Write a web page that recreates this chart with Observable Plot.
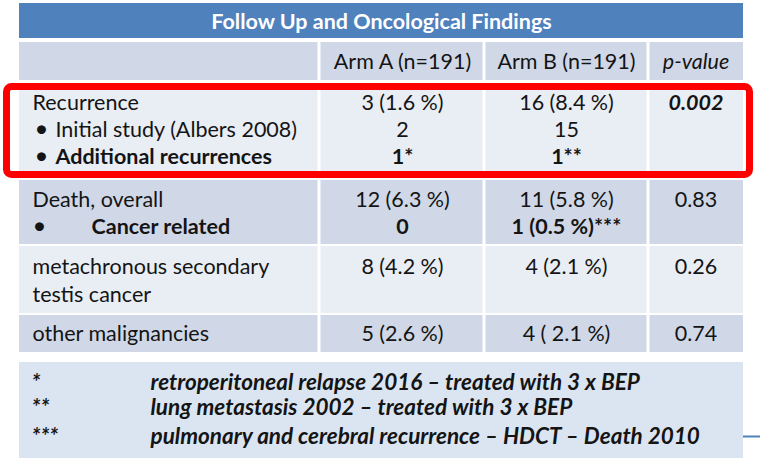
<!DOCTYPE html>
<html>
<head>
<meta charset="utf-8">
<script src="https://cdn.jsdelivr.net/npm/d3@7"></script>
<script src="https://cdn.jsdelivr.net/npm/@observablehq/plot@0.6"></script>
<style>
  html, body { margin: 0; padding: 0; background: #ffffff; }
  #chart svg { display: block; }
</style>
</head>
<body>
<div id="chart"></div>
<script>
// ---------- DATA ----------
const title = "Follow Up and Oncological Findings";
const columnHeaders = ["Arm A (n=191)", "Arm B (n=191)", "p-value"];
const findings = ["Recurrence", "Initial study (Albers 2008)", "Additional recurrences",
                  "Death, overall", "Cancer related",
                  "metachronous secondary", "testis cancer",
                  "other malignancies"];
const armA = ["3 (1.6 %)", "2", "1*", "12 (6.3 %)", "0", "8 (4.2 %)", "", "5 (2.6 %)"];
const armB = ["16 (8.4 %)", "15", "1**", "11 (5.8 %)", "1 (0.5 %)***", "4 (2.1 %)", "", "4 ( 2.1 %)"];
const pValues = ["0.002", "", "", "0.83", "", "0.26", "", "0.74"];
const footnoteMarks = ["*", "**", "***"];
const footnoteTexts = ["retroperitoneal relapse 2016 \u2013 treated with 3 x BEP",
                       "lung metastasis 2002 \u2013 treated with 3 x BEP",
                       "pulmonary and cerebral recurrence \u2013 HDCT \u2013 Death 2010"];

// ---------- LAYOUT (positions & styles, not data) ----------
const colEdges = [19, 319, 484, 648, 743];
const colCenters = [null, 402, 566, 695.5];
const lineBaseline = [109, 136, 163, 206, 233, 273, 301, 340];
const lineBullet = [false, true, true, false, true, false, false, false];
const lineBold = [false, false, true, false, true, false, false, false];
const labelIndent = [32, 55, 55, 32, 91, 32, 32, 32];
const groupBands = [[83, 178, "#E9EDF4"], [180, 244, "#D0D8E8"], [246, 313, "#E9EDF4"], [315, 352, "#D0D8E8"]];
const footBaselines = [389, 414, 443];
const FONT = "Lato, 'Open Sans', sans-serif";
const FS = 21.5;
const TXT = "#141414";

// background cells
const cells = [];
cells.push({x1: colEdges[0], x2: colEdges[4], y1: 3, y2: 38, fill: "#4F81BD"});
for (let c = 0; c < 4; c++) {
  const x1 = colEdges[c] + (c > 0 ? 1.5 : 0), x2 = colEdges[c + 1] - (c < 3 ? 1.5 : 0);
  cells.push({x1, x2, y1: 42, y2: 80, fill: "#D0D8E8"});
  for (const [y1, y2, fill] of groupBands) cells.push({x1, x2, y1, y2, fill});
}
cells.push({x1: colEdges[0], x2: colEdges[4], y1: 362, y2: 458, fill: "#DBE5F1"});

const lines = findings.map((label, i) => ({
  label, a: armA[i], b: armB[i], p: pValues[i],
  y: lineBaseline[i], bullet: lineBullet[i], bold: lineBold[i], indent: labelIndent[i]
}));
const headerRows = columnHeaders.map((h, i) => ({h, x: colCenters[i + 1], italic: i === 2}));
const foot = footnoteTexts.map((t, i) => ({mark: footnoteMarks[i], t, y: footBaselines[i]}));

const txt = (data, opts) => Plot.text(data, {
  fontFamily: FONT, fontSize: FS, fill: TXT, lineAnchor: "bottom", ...opts
});

const chart = Plot.plot({
  width: 760, height: 460, margin: 0,
  x: {domain: [0, 760], range: [0, 760], axis: null},
  y: {domain: [0, 460], range: [0, 460], axis: null},
  style: {background: "#ffffff"},
  marks: [
    Plot.rect(cells, {x1: "x1", x2: "x2", y1: "y1", y2: "y2", fill: d => d.fill}),
    // title
    txt([title], {x: 381, y: 28, text: d => d, fill: "#ffffff", fontWeight: "bold", textAnchor: "middle"}),
    // headers
    txt(headerRows.filter(d => !d.italic), {x: "x", y: 68, text: "h", textAnchor: "middle"}),
    txt(headerRows.filter(d => d.italic), {x: "x", y: 68, text: "h", textAnchor: "middle", fontStyle: "italic"}),
    // row labels
    txt(lines.filter(d => !d.bold), {x: "indent", y: "y", text: "label", textAnchor: "start"}),
    txt(lines.filter(d => d.bold), {x: "indent", y: "y", text: "label", textAnchor: "start", fontWeight: "bold"}),
    txt(lines.filter(d => d.bullet), {x: d => d.indent === 91 ? 32 : 34, y: "y", text: () => "\u2022", textAnchor: "start", fontSize: 24}),
    // arms
    txt(lines.filter(d => !d.bold), {x: colCenters[1], y: "y", text: "a", textAnchor: "middle"}),
    txt(lines.filter(d => d.bold), {x: colCenters[1], y: "y", text: "a", textAnchor: "middle", fontWeight: "bold"}),
    txt(lines.filter(d => !d.bold), {x: colCenters[2], y: "y", text: "b", textAnchor: "middle"}),
    txt(lines.filter(d => d.bold), {x: colCenters[2], y: "y", text: "b", textAnchor: "middle", fontWeight: "bold"}),
    // p-values
    txt(lines.filter(d => d.p && d.p !== "0.002"), {x: colCenters[3], y: "y", text: "p", textAnchor: "middle"}),
    txt(lines.filter(d => d.p === "0.002"), {x: colCenters[3], y: "y", text: "p", textAnchor: "middle", fontWeight: "bold", fontStyle: "italic"}),
    // highlight box
    Plot.rect([0], {x1: 6.5, x2: 749.5, y1: 86.5, y2: 174.5, fill: "none", stroke: "#FF0000", strokeWidth: 7, rx: 5}),
    // footnotes
    txt(foot, {x: 31, y: "y", text: "mark", textAnchor: "start", fontWeight: "bold", fontStyle: "italic", fontSize: 22.5}),
    txt(foot, {x: 150, y: "y", text: "t", textAnchor: "start", fontWeight: "bold", fontStyle: "italic", fontSize: 22.5}),
    // connector line at right
    Plot.ruleY([436], {x1: 743, x2: 760, stroke: "#4F81BD", strokeWidth: 2})
  ]
});
document.getElementById("chart").appendChild(chart);
</script>
</body>
</html>
